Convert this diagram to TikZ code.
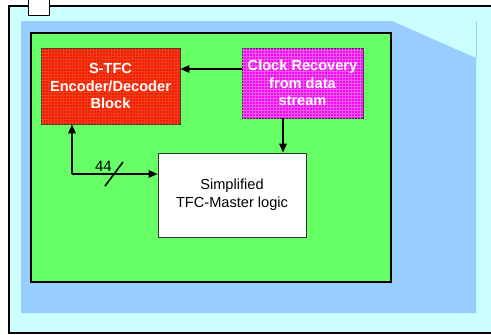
\documentclass[tikz,border=0pt]{standalone}
\usepackage{fontspec}
\setmainfont{Liberation Sans}
\usetikzlibrary{arrows.meta,patterns}

\definecolor{cyanbg}{HTML}{CCFFFF}
\definecolor{bluebg}{HTML}{99CCFF}
\definecolor{greenbg}{HTML}{66FF66}
\definecolor{encred}{HTML}{FF1A00}
\definecolor{encgrid}{HTML}{E8401C}
\definecolor{clkmag}{HTML}{FF00FF}
\definecolor{clkgrid}{HTML}{E460E4}

\tikzset{
  blk/.style={draw=black!80, line width=0.8pt, align=center, inner sep=0pt,
    font=\bfseries\fontsize{14.6}{17.5}\selectfont, text=white},
  arr/.style={line width=1.4pt, -{Triangle[length=9pt,width=7.5pt]}},
}

\begin{document}
\begin{tikzpicture}[x=1pt,y=-1pt]
					\useasboundingbox (0,0) rectangle (491,335);

					% backgrounds
					\fill[white] (0,0) rectangle (491,335);
					\draw[line width=2.4pt, fill=cyanbg] (9,6) rectangle (505,333);
					\draw[line width=0.6pt, fill=white] (28,-5) rectangle (49,15);
					\fill[bluebg] (21,21) -- (392,21) -- (476,58) -- (476,313) -- (21,313) -- cycle;
					\draw[bluebg, line width=0.6pt] (476,21) -- (476,58);
					\draw[line width=2.6pt, fill=greenbg] (31,33) rectangle (391,282);

					% blocks
					\node[blk, minimum width=139pt, minimum height=76pt, fill=encred,
						postaction={pattern=grid, pattern color=encgrid}] (enc) at (110.5,86)
						{S-TFC\\Encoder/Decoder\\Block};
					\node[blk, minimum width=121pt, minimum height=70pt, fill=clkmag,
						postaction={pattern=grid, pattern color=clkgrid}] (clk) at (302.5,83)
						{Clock Recovery\\from data\\stream};
					\node[draw=black!80, line width=0.8pt, fill=white, align=center,
						minimum width=148pt, minimum height=84pt, inner sep=0pt,
						font=\fontsize{14.6}{18}\selectfont] (tfc) at (232,195)
						{Simplified\\TFC-Master logic};

					% connections
					\coordinate (clkout) at ([yshift=14pt]clk.west);
					\coordinate (clkdn) at ([xshift=-19.5pt]clk.south);
					\coordinate (bus) at ([yshift=21pt]tfc.west);
					\coordinate (corner) at (72,174);
					\draw[arr] (clkout) -- (clkout -| enc.east);
					\draw[arr] (clkdn) -- (clkdn |- tfc.north);
					\draw[arr] (corner) -- (bus);
					\draw[arr] (corner) -- (corner |- enc.south);

					\coordinate (slasha) at (105,186);
					\coordinate (slashb) at (123,162);
					\draw[line width=1.6pt] (slasha) -- (slashb);
					\node[font=\fontsize{15}{18}\selectfont, inner sep=0pt] (width) at (103.5,166.5) {44};

				\end{tikzpicture}
\end{document}
